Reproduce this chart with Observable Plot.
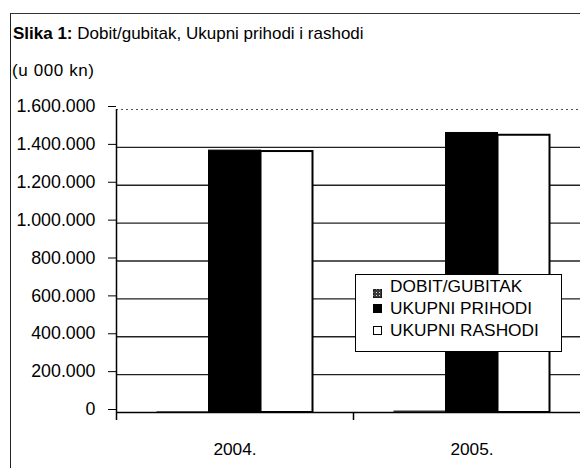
<!DOCTYPE html>
<html>
<head>
<meta charset="utf-8">
<script src="https://cdn.jsdelivr.net/npm/d3@7"></script>
<script src="https://cdn.jsdelivr.net/npm/@observablehq/plot@0.6"></script>
<style>
  html, body { margin: 0; padding: 0; background: #fff; }
  body { font-family: "Liberation Sans", Arial, sans-serif; color: #000; }
  #wrap { position: relative; width: 580px; height: 468px; overflow: hidden; }
  #header { position: relative; height: 88px; }
  #title { position: absolute; left: 13px; top: 25px; font-size: 17px; line-height: 1; white-space: nowrap; }
  #title b { font-weight: bold; }
  #subtitle { position: absolute; left: 12px; top: 62px; font-size: 17px; line-height: 1; white-space: nowrap; letter-spacing: 0.6px; }
  #frame { position: absolute; left: 10px; top: 13px; width: 620px; height: 500px;
           border-left: 1.5px solid #222; border-top: 1px solid #333; pointer-events: none; }
  #legend { position: absolute; left: 355px; top: 274px; width: 205px; height: 76px;
            border: 1px solid #000; background: #fff; box-sizing: content-box; }
  #legend .row { position: relative; height: 22px; line-height: 22px; font-size: 17.3px; white-space: nowrap; padding-left: 34px; }
  #legend .sw { position: absolute; left: 17px; top: 7px; width: 9px; height: 9px; box-sizing: border-box; }
  #chart svg { display: block; }
</style>
</head>
<body>
<svg width="0" height="0" style="position:absolute">
  <defs>
    <pattern id="dots" width="3" height="3" patternUnits="userSpaceOnUse">
      <rect width="3" height="3" fill="#3a3a3a"></rect>
      <rect width="1" height="1" fill="#ddd"></rect>
    </pattern>
  </defs>
</svg>
<div id="wrap">
  <div id="header">
    <div id="title"><b>Slika 1:</b> Dobit/gubitak, Ukupni prihodi i rashodi</div>
    <div id="subtitle">(u 000 kn)</div>
  </div>
  <div id="chart"></div>
  <div id="legend"></div>
  <div id="frame"></div>
</div>
<script>
// ---- data ----
const years = ["2004.", "2005."];
const series = ["DOBIT/GUBITAK", "UKUPNI PRIHODI", "UKUPNI RASHODI"];
const dobit = [4000, 8000];
const prihodi = [1383000, 1476000];
const rashodi = [1378000, 1464000];
const yTicks = [0, 200000, 400000, 600000, 800000, 1000000, 1200000, 1400000, 1600000];

// ---- styling ----
const fills = ["url(#dots)", "#000", "#fff"];
const fmt = d3.formatLocale({decimal: ",", thousands: ".", grouping: [3], currency: ["", ""]}).format(",");

const values = [dobit, prihodi, rashodi];
const barW = 52;
const band = 237;
const inset = (band - barW) / 2;

const barMarks = values.map((vals, k) => Plot.barY(years, {
  x: d => d,
  y: (d, i) => vals[i],
  fill: fills[k],
  stroke: k === 0 ? "none" : "#000",
  strokeWidth: k === 2 ? 2 : 1,
  insetLeft: inset,
  insetRight: inset,
  dx: (k - 1) * barW
}));

const plot = Plot.plot({
  width: 580,
  height: 380,
  marginLeft: 116,
  marginRight: 0,
  marginTop: 21,
  marginBottom: 56,
  style: {fontFamily: "'Liberation Sans', Arial, sans-serif", background: "transparent", color: "#000", overflow: "visible"},
  x: {type: "band", domain: years, range: [116, 116 + 2 * band], padding: 0, axis: null},
  y: {domain: [0, 1600000], axis: null},
  marks: [
    Plot.ruleY(yTicks.filter(d => d > 0 && d < 1600000), {stroke: "#222", strokeWidth: 1.3}),
    Plot.ruleY([1600000], {stroke: "#555", strokeDasharray: "2,3"}),
    ...barMarks,
    Plot.ruleY([0], {stroke: "#000", strokeWidth: 1.5}),
    Plot.ruleX([years[0]], {x: d => d, y1: 1600000, y2: 0, dx: -band / 2, insetBottom: -8, stroke: "#000", strokeWidth: 1.5}),
    Plot.ruleX([years[1]], {x: d => d, y1: 0, y2: 0, dx: -band / 2, insetBottom: -8, stroke: "#000", strokeWidth: 1.5}),
    Plot.axisY(yTicks, {anchor: "left", tickSize: 8, tickPadding: 13, tickFormat: fmt, fontSize: 17.8, dy: -3, stroke: "#000", fill: "#000"}),
    Plot.text(years, {x: d => d, y: 0, dy: 37, text: d => d, fontSize: 17.3, fill: "#000"})
  ]
});
document.getElementById("chart").appendChild(plot);

// ---- legend ----
const legend = document.getElementById("legend");
series.forEach((s, k) => {
  const row = document.createElement("div");
  row.className = "row";
  const sw = document.createElement("span");
  sw.className = "sw";
  if (k === 0) {
    sw.innerHTML = '<svg width="9" height="9"><rect width="9" height="9" fill="url(#dots)" stroke="#000" stroke-width="1"></rect></svg>';
    sw.style.top = "6px";
  } else if (k === 1) {
    sw.style.background = "#000";
  } else {
    sw.style.background = "#fff";
    sw.style.border = "1.5px solid #000";
  }
  row.appendChild(sw);
  row.appendChild(document.createTextNode(s));
  legend.appendChild(row);
});
</script>
</body>
</html>
